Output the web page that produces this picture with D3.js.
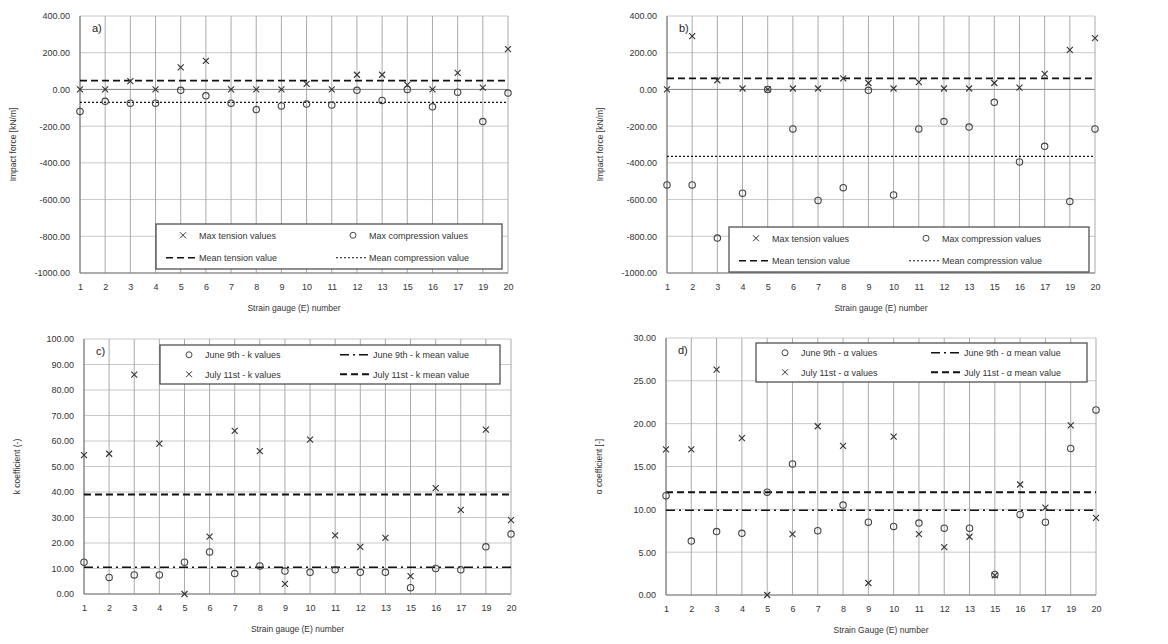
<!DOCTYPE html>
<html><head><meta charset="utf-8">
<script src="https://cdn.jsdelivr.net/npm/d3@7"></script>
<style>body{margin:0;background:#fff}svg{font-family:"Liberation Sans",Arial,sans-serif}</style>
</head><body><svg id="c" width="1168" height="644"></svg>
<script>
const gauges = ["1","2","3","4","5","6","7","8","9","10","11","12","13","15","16","17","19","20"];
const aTension = [0,0,45,0,120,155,0,0,0,30,0,80,80,25,0,90,10,220];
const aCompression = [-120,-65,-75,-75,-5,-35,-75,-110,-90,-80,-85,-5,-60,0,-95,-15,-175,-20];
const aMeans = [48,-70];
const bTension = [0,290,50,5,0,5,5,60,35,5,40,5,5,35,10,85,215,280];
const bCompression = [-520,-520,-810,-565,0,-215,-605,-535,-5,-575,-215,-175,-205,-70,-395,-310,-610,-215];
const bMeans = [60,-365];
const cJune = [12.5,6.5,7.5,7.5,12.5,16.5,8,11,9,8.5,9.5,8.5,8.5,2.5,10,9.5,18.5,23.5];
const cJuly = [54.5,55,86,59,0,22.5,64,56,4,60.5,23,18.5,22,7,41.5,33,64.5,29];
const cMeans = [10.5,39];
const dJune = [11.6,6.3,7.4,7.2,12.0,15.3,7.5,10.5,8.5,8.0,8.4,7.8,7.8,2.4,9.4,8.5,17.1,21.6];
const dJuly = [17,17,26.3,18.3,0,7.1,19.7,17.4,1.4,18.5,7.1,5.6,6.8,2.3,12.9,10.2,19.8,9.0];
const dMeans = [9.9,12.0];
const forceTicks = [400,200,0,-200,-400,-600,-800,-1000];
const kTicks = [0,10,20,30,40,50,60,70,80,90,100];
const aTicks = [0,5,10,15,20,25,30];

const svg = d3.select("#c");
const DASH = "7,4", DOT = "2,2", DASHDOT = "9,4,2,4";
const fmt = d => d.toFixed(2);

function panel(o){
  const g = svg.append("g");
  const x = d3.scalePoint().domain(gauges).range([o.l,o.r]).padding(0);
  const y = d3.scaleLinear().domain(o.dom).range([o.b,o.t]);
  g.selectAll(".hg").data(o.ticks).join("line").attr("x1",o.l).attr("x2",o.r)
    .attr("y1",d=>y(d)).attr("y2",d=>y(d)).attr("stroke","#c8c8c8");
  g.selectAll(".vg").data(gauges).join("line").attr("x1",d=>x(d)).attr("x2",d=>x(d))
    .attr("y1",o.t).attr("y2",o.b).attr("stroke","#aaa");
  g.append("line").attr("x1",o.l).attr("x2",o.l).attr("y1",o.t).attr("y2",o.b).attr("stroke","#777");
  g.append("line").attr("x1",o.l).attr("x2",o.r).attr("y1",o.b).attr("y2",o.b).attr("stroke","#777");
  if(o.zero) g.append("line").attr("x1",o.l).attr("x2",o.r).attr("y1",y(0)).attr("y2",y(0)).attr("stroke","#888");
  const ya = d3.axisLeft(y).tickValues(o.ticks).tickFormat(fmt).tickSize(0).tickPadding(10);
  g.append("g").attr("transform",`translate(${o.l},0)`).call(ya).call(s=>s.select(".domain").remove())
    .selectAll("text").attr("font-size",9).attr("fill","#333");
  const xa = d3.axisBottom(x).tickSize(0).tickPadding(11);
  g.append("g").attr("transform",`translate(0,${o.b})`).call(xa).call(s=>s.select(".domain").remove())
    .selectAll("text").attr("font-size",9).attr("fill","#333");
  g.append("text").attr("x",(o.l+o.r)/2).attr("y",o.b+38).attr("text-anchor","middle").attr("font-size",8.5).attr("fill","#333").text(o.xt);
  g.append("text").attr("transform",`translate(${o.l-64},${(o.t+o.b)/2}) rotate(-90)`).attr("text-anchor","middle").attr("font-size",8.5).attr("fill","#333").text(o.yt);
  g.append("text").attr("x",o.l+12).attr("y",o.t+16).attr("font-size",11).attr("fill","#222").text(o.lab);
  o.means.forEach((m,i)=>g.append("line").attr("x1",o.l).attr("x2",o.r).attr("y1",y(m)).attr("y2",y(m))
    .attr("stroke","#111").attr("stroke-width",o.mw[i]).attr("stroke-dasharray",o.md[i]));
  const cross=(sel,data)=>sel.selectAll(null).data(data).join("path")
    .attr("d",(d,i)=>{const cx=x(gauges[i]),cy=y(d),s=3;return `M${cx-s},${cy-s}L${cx+s},${cy+s}M${cx-s},${cy+s}L${cx+s},${cy-s}`;})
    .attr("stroke","#333").attr("stroke-width",1.1).attr("fill","none");
  const circ=(sel,data)=>sel.selectAll(null).data(data).join("circle")
    .attr("cx",(d,i)=>x(gauges[i])).attr("cy",d=>y(d)).attr("r",3.2).attr("fill","none").attr("stroke","#444").attr("stroke-width",1.1);
  o.series.forEach(s=> s.type==="x"?cross(g.append("g"),s.data):circ(g.append("g"),s.data));
  const L=o.leg;
  g.append("rect").attr("x",L.x).attr("y",L.y).attr("width",L.w).attr("height",L.h).attr("fill","#fff").attr("stroke","#444").attr("stroke-width",1.2);
  L.items.forEach((it,i)=>{
    const col=i%2,row=Math.floor(i/2);
    const bx=L.x+(col?L.c2:L.c1), by=L.y+L.h*(row*2+1)/4;
    const lg=g.append("g");
    if(it.t==="x") lg.append("path").attr("d",`M${bx+14},${by-3}L${bx+20},${by+3}M${bx+14},${by+3}L${bx+20},${by-3}`).attr("stroke","#333");
    else if(it.t==="o") lg.append("circle").attr("cx",bx+17).attr("cy",by).attr("r",3).attr("fill","none").attr("stroke","#444");
    else lg.append("line").attr("x1",bx).attr("x2",bx+30).attr("y1",by).attr("y2",by).attr("stroke","#111").attr("stroke-width",it.w).attr("stroke-dasharray",it.t);
    lg.append("text").attr("x",bx+33).attr("y",by+3.5).attr("font-size",9).attr("fill","#333").text(it.s);
  });
}
const fT = "Strain gauge (E) number";
panel({l:80,r:508,t:16,b:273,dom:[-1000,400],ticks:forceTicks,zero:true,lab:"a)",xt:fT,yt:"Impact force [kN/m]",
  means:aMeans,mw:[1.6,1.2],md:[DASH,DOT],
  series:[{type:"x",data:aTension},{type:"o",data:aCompression}],
  leg:{x:156,y:224,w:346,h:45,c1:10,c2:180,items:[{t:"x",s:"Max tension values"},{t:"o",s:"Max compression values"},{t:DASH,w:1.6,s:"Mean tension value"},{t:DOT,w:1.2,s:"Mean compression value"}]}});
panel({l:667,r:1095,t:16,b:273,dom:[-1000,400],ticks:forceTicks,zero:true,lab:"b)",xt:fT,yt:"Impact force [kN/m]",
  means:bMeans,mw:[1.6,1.2],md:[DASH,DOT],
  series:[{type:"x",data:bTension},{type:"o",data:bCompression}],
  leg:{x:729,y:227,w:360,h:45,c1:10,c2:180,items:[{t:"x",s:"Max tension values"},{t:"o",s:"Max compression values"},{t:DASH,w:1.6,s:"Mean tension value"},{t:DOT,w:1.2,s:"Mean compression value"}]}});
panel({l:84,r:511,t:339,b:594,dom:[0,100],ticks:kTicks,lab:"c)",xt:fT,yt:"k coefficient (-)",
  means:cMeans,mw:[1.6,2],md:[DASHDOT,DASH],
  series:[{type:"o",data:cJune},{type:"x",data:cJuly}],
  leg:{x:160,y:345,w:340,h:39,c1:12,c2:180,items:[{t:"o",s:"June 9th - k values"},{t:DASHDOT,w:1.6,s:"June 9th - k mean value"},{t:"x",s:"July 11st - k values"},{t:DASH,w:2,s:"July 11st - k mean value"}]}});
panel({l:666,r:1096,t:338,b:595,dom:[0,30],ticks:aTicks,lab:"d)",xt:"Strain Gauge (E) number",yt:"α coefficient [-]",
  means:dMeans,mw:[1.6,2],md:[DASHDOT,DASH],
  series:[{type:"o",data:dJune},{type:"x",data:dJuly}],
  leg:{x:756,y:343,w:331,h:39,c1:12,c2:175,items:[{t:"o",s:"June 9th - α values"},{t:DASHDOT,w:1.6,s:"June 9th - α mean value"},{t:"x",s:"July 11st - α values"},{t:DASH,w:2,s:"July 11st - α mean value"}]}});
</script></body></html>
